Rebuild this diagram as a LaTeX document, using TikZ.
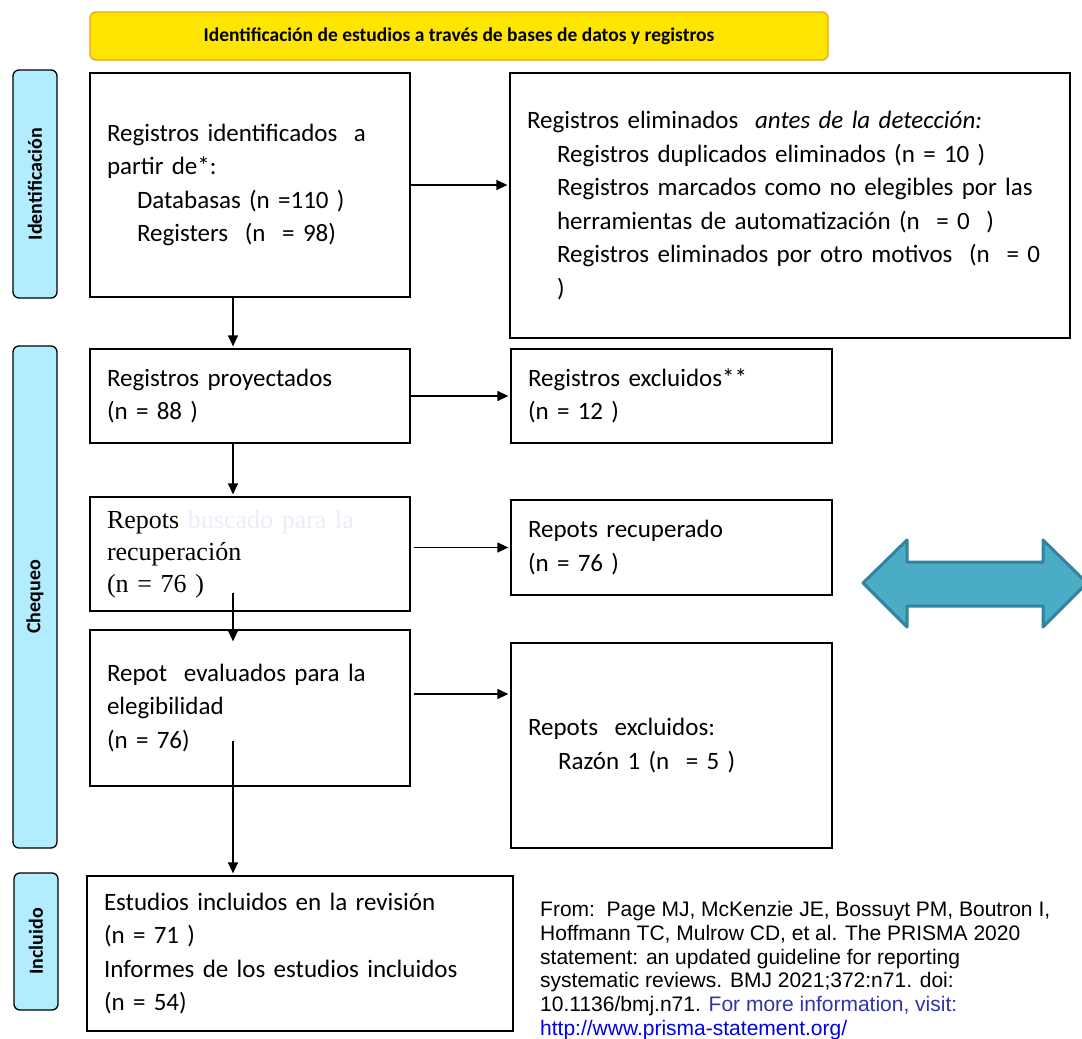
\documentclass[tikz,border=0pt]{standalone}
\usepackage{fontspec}
\setmainfont{Carlito}
\newfontfamily\timesfont{Liberation Serif}
\newfontfamily\arialfont{Liberation Sans}
\usetikzlibrary{arrows.meta}
\definecolor{bannerfill}{RGB}{255,230,0}
\definecolor{bannerline}{RGB}{232,165,20}
\definecolor{phasefill}{RGB}{178,236,255}
\definecolor{arrowfill}{RGB}{75,172,198}
\definecolor{arrowline}{RGB}{49,132,155}
\definecolor{infoblue}{RGB}{50,50,170}
\definecolor{linkblue}{RGB}{0,0,230}
\definecolor{faded}{RGB}{236,236,250}
\newcommand{\ind}{\hspace*{30pt}}
\tikzset{
  box/.style = {draw, line width = 1.3pt, align = left, inner xsep = 17pt,
    inner ysep = 0pt, font = \fontsize{25}{33.5}\selectfont},
  phase/.style = {draw, line width = 1.3pt, fill = phasefill, rounded corners = 6pt,
    rotate = 90, minimum height = 44pt, font = \bfseries\fontsize{20}{22}\selectfont}
}
\begin{document}
\begin{tikzpicture}[x = 1pt, y = -1pt, >={Triangle[length = 11pt, width = 10pt]}]
  \useasboundingbox (0, 0) rectangle (1082, 1039);
  % title banner
  \node[draw = bannerline, fill = bannerfill, line width = 1.3pt, rounded corners = 6pt,
    minimum width = 738pt, minimum height = 48pt,
    font = \bfseries\fontsize{19.5}{22}\selectfont] (title) at (459, 36)
    {Identificación de estudios a través de bases de datos y registros};
  % phase labels
  \node[phase, minimum width = 228pt] (phaseid) at (35, 184) {Identificación};
  \node[phase, minimum width = 502pt] (phasescr) at (35, 597) {Chequeo};
  \node[phase, minimum width = 137pt] (phaseinc) at (36, 941.5) {Incluido};
  % boxes, left column
  \node[box, text width = 286pt, minimum height = 224pt] (ident) at (250, 185)
    {Registros identificados \ a\\partir de*:\\\ind Databasas (n =110 )\\\ind Registers \ (n \ = 98)};
  \node[box, text width = 286pt, minimum height = 94pt] (screened) at (250, 396)
    {Registros proyectados\\(n = 88 )};
  \node[box, text width = 286pt, minimum height = 114pt,
    font = \timesfont\fontsize{26}{32}\selectfont] (sought) at (250, 554)
    {Repots \textcolor{faded}{buscado para la}\\recuperación\\(n = 76 )};
  \node[box, text width = 286pt, minimum height = 156pt] (assessed) at (250, 708)
    {Repot \ evaluados para la\\elegibilidad\\(n = 76)};
  \node[box, text width = 392pt, minimum height = 155pt] (included) at (300, 953.5)
    {Estudios incluidos en la revisión\\(n = 71 )\\Informes de los estudios incluidos\\(n = 54)};
  % boxes, right column
  \node[box, text width = 526pt, minimum height = 265pt] (removed) at (790, 205.5)
    {Registros eliminados \ \textit{antes de la detección:}\\
     \ind Registros duplicados eliminados (n = 10 )\\
     \ind Registros marcados como no elegibles por las\\
     \ind herramientas de automatización (n \ = 0 \ )\\
     \ind Registros eliminados por otro motivos \ (n \ = 0\\
     \ind )};
  \node[box, text width = 287pt, minimum height = 94pt] (excluded) at (671.5, 396)
    {Registros excluidos**\\(n = 12 )};
  \node[box, text width = 287pt, minimum height = 95pt] (retrieved) at (671.5, 547.5)
    {Repots recuperado\\(n = 76 )};
  \node[box, text width = 287pt, minimum height = 205pt] (reasons) at (671.5, 745.5)
    {Repots \ excluidos:\\\ind Razón 1 (n \ = 5 )};
  % source note
  \node[anchor = north west, align = left, inner sep = 0pt,
    font = \arialfont\fontsize{21}{23.8}\selectfont] (source) at (540, 901)
    {From:\ \ Page MJ, McKenzie JE, Bossuyt PM, Boutron I,\\
     Hoffmann TC, Mulrow CD, et al. The PRISMA 2020\\
     statement: an updated guideline for reporting\\
     systematic reviews. BMJ 2021;372:n71. doi:\\
     10.1136/bmj.n71. \textcolor{infoblue}{For more information, visit:}\\
     \textcolor{linkblue}{http://www.prisma-statement.org/}};
  % connectors
  \coordinate (spine) at (233, 0);
  \draw[->, line width = 1.3pt, shorten > = 2pt] (ident.east) -- (ident.east -| removed.west);
  \draw[->, line width = 1.3pt, shorten > = 2pt] (screened.east) -- (excluded.west);
  \draw[->, line width = 1.3pt, shorten > = 2pt] ([xshift = 3pt]sought.east |- retrieved.west) -- (retrieved.west);
  \draw[->, line width = 1.3pt, shorten > = 2pt] ([xshift = 3pt, yshift = 14pt]assessed.east) -- ([yshift = 14pt]assessed.east -| reasons.west);
  \draw[->, line width = 1.3pt, shorten > = 2pt] (spine |- ident.south) -- (spine |- screened.north);
  \draw[->, line width = 1.3pt, shorten > = 2pt] (spine |- screened.south) -- (spine |- sought.north);
  \draw[->, line width = 1.3pt] ([yshift = 19pt]spine |- sought.south) -- ([yshift = -12pt]spine |- assessed.north);
  \draw[->, line width = 1.3pt, shorten > = 2pt] ([yshift = 46pt]spine |- assessed.south) -- (spine |- included.north);
  % double arrow
  \draw[line width = 3pt, draw = arrowline, fill = arrowfill, line join = round]
    (863, 583) -- (907, 540) -- (907, 562) -- (1043, 562) -- (1043, 540) -- (1087, 583)
    -- (1043, 627) -- (1043, 606) -- (907, 606) -- (907, 627) -- cycle;
\end{tikzpicture}
\end{document}
